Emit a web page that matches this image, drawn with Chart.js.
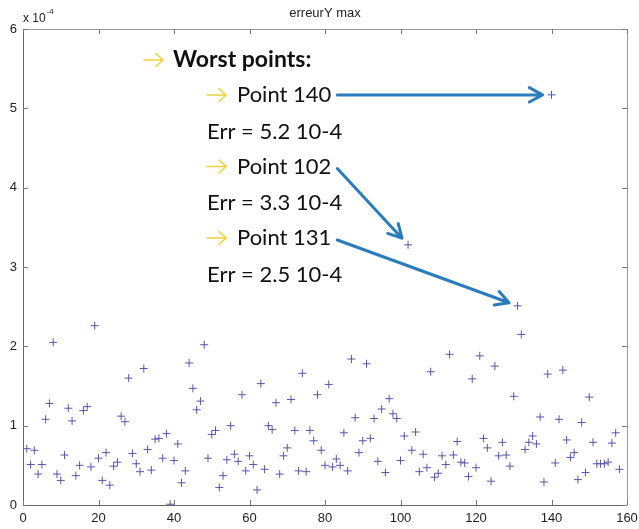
<!DOCTYPE html>
<html>
<head>
<meta charset="utf-8">
<script src="https://cdn.jsdelivr.net/npm/chart.js@4.4.1/dist/chart.umd.min.js"></script>
<style>
html,body{margin:0;padding:0;background:#fff;}
#c{display:block;}
</style>
</head>
<body>
<canvas id="c" width="639" height="529"></canvas>
<script>
// Point index (1..158)
const pointIndex = Array.from({length: 158}, (_, i) => i + 1);
// erreurY max, in units of 1e-4
const erreurYmax_e4 = [
  0.71,0.51,0.69,0.39,0.51,1.08,1.28,2.05,0.39,0.31,
  0.63,1.22,1.06,0.37,0.50,1.19,1.24,0.48,2.26,0.59,
  0.31,0.66,0.25,0.49,0.54,1.12,1.05,1.60,0.65,0.52,
  0.42,1.72,0.70,0.44,0.83,0.84,0.59,0.90,0.01,0.56,
  0.77,0.28,0.43,1.79,1.47,1.20,1.31,2.02,0.59,0.89,
  0.94,0.22,0.37,0.57,1.00,0.64,0.55,1.39,0.43,0.62,
  0.51,0.19,1.53,0.45,1.00,0.95,1.29,0.39,0.62,0.72,
  1.33,0.94,0.43,1.66,0.42,0.94,0.81,1.39,0.69,0.50,
  1.52,0.48,0.58,0.50,0.91,0.43,1.84,1.10,0.66,0.81,
  1.78,0.84,1.09,0.55,1.21,0.41,1.34,1.15,1.09,0.56,
  0.87,3.28,0.69,0.92,0.42,0.64,0.47,1.68,0.35,0.40,
  0.62,0.51,1.90,0.63,0.80,0.54,0.53,0.36,1.59,0.47,
  1.88,0.84,0.72,0.30,1.75,0.62,0.79,0.63,0.49,1.37,
  2.51,2.15,0.70,0.79,0.87,0.77,1.11,0.29,1.65,5.17,
  0.53,1.08,1.70,0.82,0.60,0.66,0.32,1.04,0.41,1.36,
  0.79,0.52,0.52,0.52,0.54,0.78,0.91,0.45
];
const xTicks = [0,20,40,60,80,100,120,140,160];
const yTicks = [0,1,2,3,4,5,6];
const chartTitle = 'erreurY max';
const worstHeader = 'Worst points:';
const worstPoints = [140, 102, 131];
const worstLabels = ['Point 140', 'Point 102', 'Point 131'];
const worstErrLabels = ['Err = 5.2 10-4', 'Err = 3.3 10-4', 'Err = 2.5 10-4'];

const data = pointIndex.map((x, i) => ({x: x, y: erreurYmax_e4[i]}));

function yellowArrow(ctx, x, y) {
  ctx.save();
  ctx.strokeStyle = '#f0d23c';
  ctx.lineWidth = 1.6;
  ctx.lineCap = 'round';
  ctx.beginPath();
  ctx.moveTo(x, y); ctx.lineTo(x + 19, y);
  ctx.moveTo(x + 12, y - 6.5); ctx.lineTo(x + 19, y); ctx.lineTo(x + 12, y + 6.5);
  ctx.stroke();
  ctx.restore();
}
function blueArrow(ctx, x0, y0, px, py, gap) {
  const dx = px - x0, dy = py - y0, L = Math.hypot(dx, dy);
  const ux = dx / L, uy = dy / L;
  const tx = px - ux * gap, ty = py - uy * gap;
  ctx.save();
  ctx.strokeStyle = '#2a7cbc';
  ctx.lineWidth = 3;
  ctx.lineCap = 'round';
  ctx.lineJoin = 'round';
  ctx.beginPath();
  ctx.moveTo(x0, y0); ctx.lineTo(tx, ty);
  const a = Math.atan2(uy, ux), h = 15, s = 0.5;
  ctx.moveTo(tx - h * Math.cos(a - s), ty - h * Math.sin(a - s));
  ctx.lineTo(tx, ty);
  ctx.lineTo(tx - h * Math.cos(a + s), ty - h * Math.sin(a + s));
  ctx.stroke();
  ctx.restore();
}

const matlabFrame = {
  id: 'matlabFrame',
  afterDraw(chart) {
    const ctx = chart.ctx, a = chart.chartArea;
    const xs = chart.scales.x, ys = chart.scales.y;
    ctx.save();
    // box
    ctx.lineWidth = 1;
    ctx.strokeStyle = '#9a9a9a';
    ctx.beginPath();
    ctx.moveTo(a.left, a.top + 0.5); ctx.lineTo(a.right + 0.5, a.top + 0.5);
    ctx.lineTo(a.right + 0.5, a.bottom);
    ctx.stroke();
    ctx.strokeStyle = '#666';
    ctx.beginPath();
    ctx.moveTo(a.left + 0.5, a.top); ctx.lineTo(a.left + 0.5, a.bottom + 0.5);
    ctx.lineTo(a.right + 0.5, a.bottom + 0.5);
    ctx.stroke();
    // inward ticks
    ctx.strokeStyle = '#777';
    ctx.beginPath();
    const tl = 5;
    xTicks.forEach(v => {
      const p = Math.round(xs.getPixelForValue(v)) + 0.5;
      ctx.moveTo(p, a.bottom); ctx.lineTo(p, a.bottom - tl);
      ctx.moveTo(p, a.top); ctx.lineTo(p, a.top + tl);
    });
    yTicks.forEach(v => {
      const p = Math.round(ys.getPixelForValue(v)) + 0.5;
      ctx.moveTo(a.left, p); ctx.lineTo(a.left + tl, p);
      ctx.moveTo(a.right, p); ctx.lineTo(a.right - tl, p);
    });
    ctx.stroke();
    // title
    ctx.fillStyle = '#222';
    ctx.font = '13px "Liberation Sans", Arial, sans-serif';
    ctx.textAlign = 'center';
    ctx.textBaseline = 'middle';
    ctx.fillText(chartTitle, (a.left + a.right) / 2, 13);
    // exponent
    ctx.font = '12px "Liberation Sans", Arial, sans-serif';
    ctx.textAlign = 'left';
    ctx.fillText('x 10', a.left, 19);
    const w = ctx.measureText('x 10').width;
    ctx.font = '8px "Liberation Sans", Arial, sans-serif';
    ctx.fillText('-4', a.left + w + 1, 12);

    // annotations
    const L = a.left;
    yellowArrow(ctx, L + 121, 60);
    ctx.fillStyle = '#111';
    ctx.font = 'bold 23px Lato, "Noto Sans", sans-serif';
    ctx.textBaseline = 'middle';
    ctx.fillText(worstHeader, L + 150, 60);
    const rowY = [95, 166.5, 238];
    const errY = [132, 203, 274.5];
    ctx.font = '22px Lato, "Noto Sans", sans-serif';
    worstPoints.forEach((pIdx, k) => {
      yellowArrow(ctx, L + 184, rowY[k]);
      ctx.fillStyle = '#111';
      ctx.fillText(worstLabels[k], L + 214, rowY[k]);
      ctx.fillText(worstErrLabels[k], L + 184, errY[k]);
      const tw = ctx.measureText(worstLabels[k]).width;
      const px = xs.getPixelForValue(pIdx);
      const py = ys.getPixelForValue(erreurYmax_e4[pIdx - 1]);
      blueArrow(ctx, L + 214 + tw + 6, rowY[k] + (k === 0 ? 0 : 2), px, py, 9);
    });
    ctx.restore();
  }
};

new Chart(document.getElementById('c'), {
  type: 'scatter',
  data: {
    datasets: [{
      data: data,
      pointStyle: 'cross',
      pointRadius: 4,
      pointBorderWidth: 1,
      borderColor: '#5656ae',
      backgroundColor: '#5656ae',
      showLine: false
    }]
  },
  options: {
    responsive: false,
    animation: false,
    devicePixelRatio: 1,
    layout: {padding: {top: 29, right: 12, left: 0, bottom: 0}},
    plugins: {legend: {display: false}, title: {display: false}, tooltip: {enabled: false}},
    scales: {
      x: {
        type: 'linear', min: 0, max: 160,
        afterBuildTicks: s => { s.ticks = xTicks.map(v => ({value: v})); },
        ticks: {padding: 6, maxRotation: 0, autoSkip: false, color: '#222',
                font: {family: '"Liberation Sans", Arial, sans-serif', size: 13}},
        grid: {display: false, drawTicks: false},
        border: {display: false},
        afterFit: s => { s.height = 24; s.paddingLeft = 0; s.paddingRight = 0; }
      },
      y: {
        type: 'linear', min: 0, max: 6,
        afterBuildTicks: s => { s.ticks = yTicks.map(v => ({value: v})); },
        ticks: {padding: 6, color: '#222',
                font: {family: '"Liberation Sans", Arial, sans-serif', size: 13}},
        grid: {display: false, drawTicks: false},
        border: {display: false},
        afterFit: s => { s.width = 23; s.paddingTop = 0; s.paddingBottom = 0; }
      }
    }
  },
  plugins: [matlabFrame]
});
</script>
</body>
</html>
